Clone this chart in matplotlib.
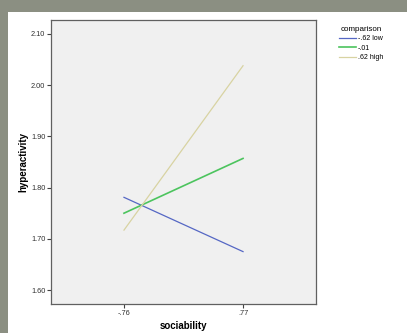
import numpy as np
import matplotlib.pyplot as plt
from matplotlib.patches import Rectangle

plt.rcParams['font.family'] = ['Liberation Sans', 'DejaVu Sans']

# data
x_labels = ['-.76', '.77']
series = ['-.62 low', '-.01', '.62 high']
low = [1.781, 1.675]
mid = [1.750, 1.857]
high = [1.717, 2.038]
colors = ['#5567C4', '#4CC45E', '#D8D3A2']
widths = [0.9, 1.2, 0.9]

fig = plt.figure(figsize=(4.07, 3.33), dpi=100)
fig.patch.set_facecolor('#8b8f82')
panel = Rectangle((8/407, 0), 1, (333-12)/333, transform=fig.transFigure,
                  facecolor='white', edgecolor='none', zorder=-5)
fig.add_artist(panel)

ax = fig.add_axes([51/407, 29/333, 265/407, 284/333])
ax.set_facecolor('#F0F0F0')

xs = np.arange(len(x_labels))
for vals, lab, c, w in zip([low, mid, high], series, colors, widths):
    ax.plot(xs, vals, color=c, lw=w, label=lab)

ax.set_xlim(-0.613, 1.613)
ax.set_ylim(1.5727, 2.1273)
ax.set_xticks(xs)
ax.set_xticklabels(x_labels)
ax.set_yticks([1.6, 1.7, 1.8, 1.9, 2.0, 2.1])
ax.set_yticklabels(['1.60', '1.70', '1.80', '1.90', '2.00', '2.10'])
ax.tick_params(direction='out', length=3, width=0.8, color='#404040',
               labelsize=5.3, labelcolor='#303030', pad=1)
for s in ax.spines.values():
    s.set_color('#606060')
    s.set_linewidth(0.9)

ax.set_xlabel('sociability', fontsize=7, fontweight='bold', labelpad=3)
ax.set_ylabel('hyperactivity', fontsize=7, fontweight='bold', labelpad=2)

leg = fig.legend(loc='upper left', bbox_to_anchor=(339/407, 1 - 26/333), frameon=False,
                 fontsize=5, title='comparison', title_fontsize=5.8,
                 handlelength=2.4, handletextpad=0.3, labelspacing=0.35,
                 borderpad=0, borderaxespad=0)

fig.savefig('out.png', dpi=100, facecolor=fig.get_facecolor())
